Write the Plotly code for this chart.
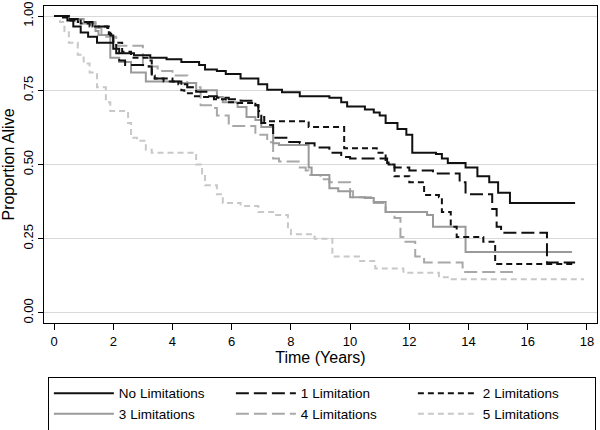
import plotly.graph_objects as go

# Kaplan-Meier survival estimates (time in years, proportion alive)
t_none = [0, 0.3, 0.45, 0.65, 0.9, 1.15, 1.45, 2.0, 2.2, 2.7, 3.25, 3.8, 4.3, 4.9, 5.1, 5.5, 5.8, 6.3, 6.9, 7.2,
          7.7, 8.3, 9.3, 9.7, 9.9, 10.5, 10.8, 11.0, 11.2, 11.6, 11.9, 12.1, 12.9, 13.1, 13.3, 13.9, 14.3, 14.7,
          15.0, 15.4, 17.6]
s_none = [1.0, 0.995, 0.985, 0.965, 0.945, 0.93, 0.91, 0.89, 0.875, 0.868, 0.86, 0.855, 0.845, 0.835, 0.82,
          0.815, 0.805, 0.79, 0.77, 0.752, 0.743, 0.73, 0.725, 0.71, 0.695, 0.685, 0.675, 0.665, 0.64, 0.62,
          0.60, 0.54, 0.535, 0.52, 0.505, 0.49, 0.46, 0.44, 0.405, 0.37, 0.37]

t_one = [0, 0.4, 0.8, 1.3, 1.8, 1.9, 2.0, 2.1, 2.2, 2.4, 3.2, 3.3, 3.7, 4.2, 4.5, 4.8, 5.2, 5.5, 5.9, 6.3,
         6.8, 6.9, 7.0, 7.2, 7.4, 7.9, 8.3, 8.8, 9.3, 9.7, 10.0, 11.25, 11.5, 12.0, 12.8, 13.7, 13.9, 14.8,
         14.95, 15.1, 16.65, 17.6]
s_one = [1.0, 0.99, 0.98, 0.965, 0.96, 0.935, 0.91, 0.875, 0.85, 0.835, 0.83, 0.79, 0.78, 0.77, 0.76, 0.745,
         0.73, 0.725, 0.72, 0.715, 0.70, 0.68, 0.64, 0.633, 0.59, 0.576, 0.572, 0.557, 0.54, 0.525, 0.52, 0.50,
         0.49, 0.48, 0.47, 0.44, 0.40, 0.35, 0.29, 0.27, 0.17, 0.17]

t_two = [0, 0.5, 0.9, 1.2, 1.85, 2.0, 2.3, 2.6, 3.2, 3.3, 3.4, 4.0, 4.3, 4.4, 4.7, 5.0, 5.4, 5.8, 6.2, 6.8,
         6.9, 7.1, 8.6, 9.8, 10.9, 11.2, 11.3, 11.5, 12.0, 12.5, 13.0, 13.1, 13.4, 13.6, 14.5, 14.9, 17.6]
s_two = [1.0, 0.985, 0.975, 0.965, 0.94, 0.91, 0.88, 0.86, 0.85, 0.80, 0.79, 0.78, 0.75, 0.74, 0.73, 0.727,
         0.72, 0.71, 0.707, 0.70, 0.66, 0.646, 0.626, 0.555, 0.54, 0.515, 0.50, 0.46, 0.44, 0.397, 0.39, 0.34,
         0.29, 0.256, 0.24, 0.165, 0.165]

t_three = [0, 0.5, 1.0, 1.4, 1.5, 1.9, 2.2, 2.6, 3.1, 4.2, 4.8, 5.5, 5.7, 6.2, 6.5, 6.8, 7.0, 7.4, 7.6, 8.6,
           8.7, 9.3, 9.6, 10.0, 10.5, 10.8, 11.2, 12.6, 12.8, 13.9, 17.5]
s_three = [1.0, 0.99, 0.975, 0.95, 0.936, 0.86, 0.845, 0.81, 0.78, 0.775, 0.75, 0.727, 0.71, 0.694, 0.66,
           0.65, 0.626, 0.572, 0.566, 0.49, 0.465, 0.42, 0.41, 0.39, 0.387, 0.374, 0.34, 0.33, 0.29, 0.205, 0.205]

t_four = [0, 0.4, 0.9, 1.4, 1.6, 2.1, 3.0, 3.5, 4.0, 4.5, 4.95, 5.3, 5.5, 5.9, 6.8, 7.2, 7.4, 7.6, 8.3, 8.5,
          8.6, 9.0, 9.3, 10.0, 10.1, 10.8, 11.2, 11.5, 11.7, 11.8, 12.2, 12.5, 13.8, 15.5]
s_four = [1.0, 0.99, 0.98, 0.96, 0.93, 0.90, 0.83, 0.815, 0.80, 0.76, 0.70, 0.69, 0.665, 0.63, 0.60, 0.575,
          0.52, 0.51, 0.49, 0.48, 0.465, 0.45, 0.44, 0.41, 0.39, 0.37, 0.34, 0.32, 0.256, 0.24, 0.19, 0.17,
          0.138, 0.138]

t_five = [0, 0.2, 0.35, 0.5, 0.8, 1.0, 1.2, 1.45, 1.75, 1.9, 2.5, 2.6, 2.8, 3.1, 3.3, 4.8, 5.0, 5.1, 5.5, 5.7,
          6.3, 6.9, 7.4, 7.9, 8.0, 8.8, 9.4, 10.3, 10.85, 11.8, 13.0, 13.3, 17.9]
s_five = [1.0, 0.98, 0.95, 0.91, 0.87, 0.84, 0.81, 0.76, 0.71, 0.68, 0.64, 0.59, 0.58, 0.55, 0.54, 0.50,
          0.47, 0.43, 0.40, 0.37, 0.36, 0.34, 0.33, 0.28, 0.265, 0.25, 0.19, 0.175, 0.15, 0.135, 0.12, 0.113,
          0.113]

x_ticks = list(range(0, 19, 2))
y_ticks = [0, 0.25, 0.5, 0.75, 1.0]
y_labels = ["0.00", "0.25", "0.50", "0.75", "1.00"]

# drawn back to front so the black curves sit on top; legendrank keeps the legend order
series = [
    ("5 Limitations", t_five, s_five, "#c8c8c8", "6px,4px", 6),
    ("4 Limitations", t_four, s_four, "#a8a8a8", "13px,5px", 5),
    ("3 Limitations", t_three, s_three, "#9a9a9a", "solid", 4),
    ("2 Limitations", t_two, s_two, "#111111", "6px,4px", 3),
    ("1 Limitation", t_one, s_one, "#111111", "13px,5px", 2),
    ("No Limitations", t_none, s_none, "#111111", "solid", 1),
]

fig = go.Figure()
for name, t, s, color, dash, rank in series:
    fig.add_trace(go.Scatter(
        x=t, y=s, mode="lines", name=name, legendrank=rank,
        line=dict(shape="hv", color=color, width=2, dash=dash),
    ))

fig.update_layout(
    width=600, height=430,
    margin=dict(l=44, r=3, t=6, b=107, autoexpand=False),
    paper_bgcolor="white", plot_bgcolor="white",
    font=dict(family="Liberation Sans, Arial, sans-serif", size=13, color="black"),
    legend=dict(
        orientation="h", x=0.007, xanchor="left", y=-0.17, yanchor="top",
        entrywidth=107, entrywidthmode="pixels", itemwidth=60,
        bordercolor="black", borderwidth=1, bgcolor="white",
        font=dict(size=13.5), tracegroupgap=0,
    ),
)

fig.update_xaxes(
    range=[-0.34, 18.34], tickvals=x_ticks, ticks="outside", ticklen=6, tickcolor="black",
    showgrid=False, zeroline=False, showline=True, linecolor="black", linewidth=1, mirror=True,
    title=dict(text="Time (Years)", standoff=2), tickfont=dict(size=13), automargin=False,
)
fig.update_yaxes(
    range=[-0.034, 1.034], tickvals=y_ticks, ticktext=y_labels, tickangle=-90,
    ticks="outside", ticklen=5, tickcolor="black",
    showgrid=True, gridcolor="#d9d9d9", gridwidth=1, zeroline=False,
    showline=True, linecolor="black", linewidth=1, mirror=True,
    title=dict(text="Proportion Alive", standoff=2), tickfont=dict(size=13), automargin=False,
)

# the page's default 8px body margin would shift the figure; remove it
fig.write_html("out.html", config={"displayModeBar": False},
               post_script="document.body.style.margin = '0';")
